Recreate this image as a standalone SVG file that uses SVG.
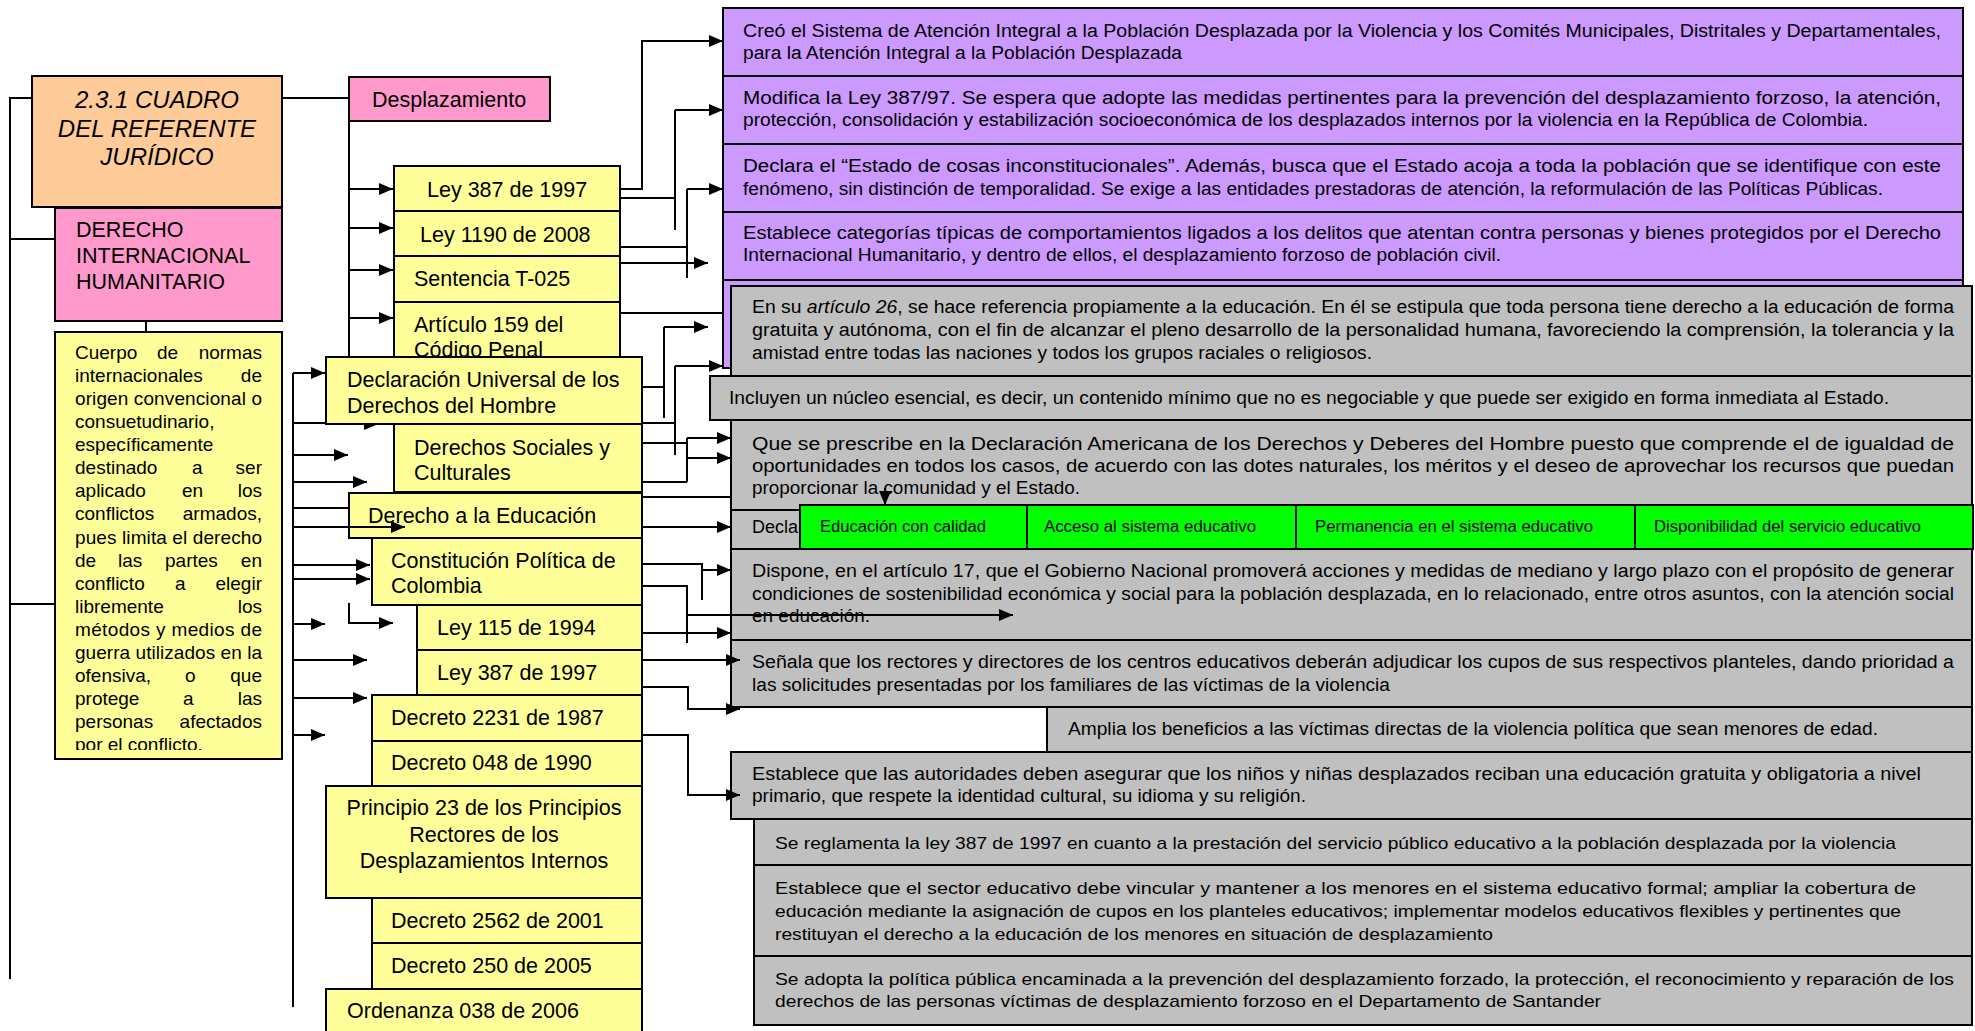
<svg xmlns="http://www.w3.org/2000/svg" width="1975" height="1031" viewBox="0 0 1975 1031">
<style>
.bx{stroke:#000;stroke-width:2}
.yl{fill:#FFFF99}.pk{fill:#FF99CC}.or{fill:#FFCC99}.pu{fill:#CC99FF}.gr{fill:#C0C0C0}.gn{fill:#00FF00}
text{font-family:"Liberation Sans",Arial,sans-serif;fill:#000}
.tl{font-size:21.5px}.ts{font-size:18px}.tc{font-size:19px}.tg{font-size:16px}.tb{font-size:17px}
.ti{font-size:24px;font-style:italic}
.cn{fill:none;stroke:#000;stroke-width:2}
.ar{marker-end:url(#ah)}
</style>
<defs>
<marker id="ah" markerUnits="userSpaceOnUse" markerWidth="14" markerHeight="12" refX="14" refY="6" orient="auto"><path d="M0,0 L14,6 L0,12 z" fill="#000"/></marker>
<clipPath id="cuerpoClip"><rect x="55" y="332" width="227" height="418"/></clipPath>
</defs>
<rect width="1975" height="1031" fill="#fff"/>

<g id="titulo"><rect class="bx or" x="32" y="76" width="250" height="131"/>
<text class="ti" text-anchor="middle"><tspan x="157" y="108">2.3.1 CUADRO</tspan><tspan x="157" y="137">DEL REFERENTE</tspan><tspan x="157" y="165">JURÍDICO</tspan></text></g>

<g id="dih"><rect class="bx pk" x="55" y="208" width="227" height="113"/>
<text class="tl"><tspan x="76" y="237">DERECHO</tspan><tspan x="76" y="263">INTERNACIONAL</tspan><tspan x="76" y="289">HUMANITARIO</tspan></text></g>

<g id="cuerpo"><rect class="bx yl" x="55" y="332" width="227" height="427"/>
<g clip-path="url(#cuerpoClip)" class="tc">
<text x="75" y="359">Cuerpo</text><text x="157" y="359">de</text><text x="262" y="359" text-anchor="end">normas</text>
<text x="75" y="382">internacionales</text><text x="262" y="382" text-anchor="end">de</text>
<text x="75" y="405" textLength="187" lengthAdjust="spacing">origen convencional o</text>
<text x="75" y="428">consuetudinario,</text>
<text x="75" y="451">específicamente</text>
<text x="75" y="474">destinado</text><text x="192" y="474">a</text><text x="262" y="474" text-anchor="end">ser</text>
<text x="75" y="497">aplicado</text><text x="182" y="497">en</text><text x="262" y="497" text-anchor="end">los</text>
<text x="75" y="520">conflictos</text><text x="262" y="520" text-anchor="end">armados,</text>
<text x="75" y="544" textLength="187" lengthAdjust="spacing">pues limita el derecho</text>
<text x="75" y="567">de</text><text x="118" y="567">las</text><text x="165" y="567">partes</text><text x="262" y="567" text-anchor="end">en</text>
<text x="75" y="590">conflicto</text><text x="175" y="590">a</text><text x="262" y="590" text-anchor="end">elegir</text>
<text x="75" y="613">libremente</text><text x="262" y="613" text-anchor="end">los</text>
<text x="75" y="636" textLength="187" lengthAdjust="spacing">métodos y medios de</text>
<text x="75" y="659" textLength="187" lengthAdjust="spacing">guerra utilizados en la</text>
<text x="75" y="682">ofensiva,</text><text x="185" y="682">o</text><text x="262" y="682" text-anchor="end">que</text>
<text x="75" y="705">protege</text><text x="183" y="705">a</text><text x="262" y="705" text-anchor="end">las</text>
<text x="75" y="728">personas</text><text x="262" y="728" text-anchor="end">afectados</text>
<text x="75" y="751">por el conflicto.</text>
</g></g>

<g id="desplazamiento"><rect class="bx pk" x="349" y="77" width="201" height="44"/><text class="tl" x="372" y="107">Desplazamiento</text></g>
<g id="ley387a"><rect class="bx yl" x="394" y="166" width="226" height="45"/><text class="tl" x="427" y="197">Ley 387 de 1997</text></g>
<g id="ley1190"><rect class="bx yl" x="394" y="211" width="226" height="45"/><text class="tl" x="420" y="242">Ley 1190 de 2008</text></g>
<g id="sentencia"><rect class="bx yl" x="394" y="256" width="226" height="46"/><text class="tl" x="414" y="286">Sentencia T-025</text></g>
<g id="articulo159"><rect class="bx yl" x="394" y="302" width="226" height="78"/><text class="tl"><tspan x="414" y="332">Artículo 159 del</tspan><tspan x="414" y="357">Código Penal</tspan></text></g>
<g id="declaracion"><rect class="bx yl" x="326" y="357" width="316" height="67"/><text class="tl"><tspan x="347" y="387">Declaración Universal de los</tspan><tspan x="347" y="413">Derechos del Hombre</tspan></text></g>
<g id="dsc"><rect class="bx yl" x="394" y="424" width="248" height="68"/><text class="tl"><tspan x="414" y="455">Derechos Sociales y</tspan><tspan x="414" y="480">Culturales</tspan></text></g>
<g id="dedu"><rect class="bx yl" x="349" y="493" width="293" height="45"/><text class="tl" x="368" y="523">Derecho a la Educación</text></g>
<g id="constitucion"><rect class="bx yl" x="372" y="538" width="270" height="67"/><text class="tl"><tspan x="391" y="568">Constitución Política de</tspan><tspan x="391" y="593">Colombia</tspan></text></g>
<g id="ley115"><rect class="bx yl" x="417" y="605" width="225" height="45"/><text class="tl" x="437" y="635">Ley 115 de 1994</text></g>
<g id="ley387b"><rect class="bx yl" x="417" y="650" width="225" height="45"/><text class="tl" x="437" y="680">Ley 387 de 1997</text></g>
<g id="dec2231"><rect class="bx yl" x="372" y="695" width="270" height="46"/><text class="tl" x="391" y="725">Decreto 2231 de 1987</text></g>
<g id="dec048"><rect class="bx yl" x="372" y="741" width="270" height="45"/><text class="tl" x="391" y="770">Decreto 048 de 1990</text></g>
<g id="principio23"><rect class="bx yl" x="326" y="786" width="316" height="112"/><text class="tl" text-anchor="middle"><tspan x="484" y="815">Principio 23 de los Principios</tspan><tspan x="484" y="842">Rectores de los</tspan><tspan x="484" y="868">Desplazamientos Internos</tspan></text></g>
<g id="dec2562"><rect class="bx yl" x="372" y="898" width="270" height="45"/><text class="tl" x="391" y="928">Decreto 2562 de 2001</text></g>
<g id="dec250"><rect class="bx yl" x="372" y="943" width="270" height="46"/><text class="tl" x="391" y="973">Decreto 250 de 2005</text></g>
<g id="ordenanza"><rect class="bx yl" x="326" y="989" width="316" height="52"/><text class="tl" x="347" y="1018">Ordenanza 038 de 2006</text></g>

<g id="p1"><rect class="bx pu" x="723" y="8" width="1240" height="68"/>
<text class="ts"><tspan x="743" y="37" textLength="1198" lengthAdjust="spacingAndGlyphs">Creó el Sistema de Atención Integral a la Población Desplazada por la Violencia y los Comités Municipales, Distritales y Departamentales,</tspan></text>
<text class="ts" x="743" y="59" textLength="439" lengthAdjust="spacingAndGlyphs">para la Atención Integral a la Población Desplazada</text></g>
<g id="p2"><rect class="bx pu" x="723" y="76" width="1240" height="68"/>
<text class="ts" x="743" y="104" textLength="1198" lengthAdjust="spacingAndGlyphs">Modifica la Ley 387/97. Se espera que adopte las medidas pertinentes para la prevención del desplazamiento forzoso, la atención,</text>
<text class="ts" x="743" y="126" textLength="1125" lengthAdjust="spacingAndGlyphs">protección, consolidación y estabilización socioeconómica de los desplazados internos por la violencia en la República de Colombia.</text></g>
<g id="p3"><rect class="bx pu" x="723" y="144" width="1240" height="68"/>
<text class="ts" x="743" y="172" textLength="1198" lengthAdjust="spacingAndGlyphs">Declara el “Estado de cosas inconstitucionales”. Además, busca que el Estado acoja a toda la población que se identifique con este</text>
<text class="ts" x="743" y="195" textLength="1140" lengthAdjust="spacingAndGlyphs">fenómeno, sin distinción de temporalidad. Se exige a las entidades prestadoras de atención, la reformulación de las Políticas Públicas.</text></g>
<g id="p4"><rect class="bx pu" x="723" y="212" width="1240" height="68"/>
<text class="ts" x="743" y="239" textLength="1198" lengthAdjust="spacingAndGlyphs">Establece categorías típicas de comportamientos ligados a los delitos que atentan contra personas y bienes protegidos por el Derecho</text>
<text class="ts" x="743" y="261" textLength="758" lengthAdjust="spacingAndGlyphs">Internacional Humanitario, y dentro de ellos, el desplazamiento forzoso de población civil.</text></g>
<g id="p5"><rect class="bx pu" x="723" y="280" width="1240" height="88"/></g>

<g id="g1"><rect class="bx gr" x="731" y="286" width="1241" height="90"/>
<text class="ts" x="752" y="313" textLength="1202" lengthAdjust="spacingAndGlyphs">En su <tspan font-style="italic">artículo 26</tspan>, se hace referencia propiamente a la educación. En él se estipula que toda persona tiene derecho a  la educación de forma</text>
<text class="ts" x="752" y="336" textLength="1202" lengthAdjust="spacingAndGlyphs">gratuita y autónoma, con el fin de alcanzar el pleno desarrollo de la personalidad humana, favoreciendo la comprensión, la tolerancia y la</text>
<text class="ts" x="752" y="359" textLength="620" lengthAdjust="spacingAndGlyphs">amistad entre todas las naciones y todos los grupos raciales o religiosos.</text></g>
<g id="g2"><rect class="bx gr" x="710" y="376" width="1262" height="44"/>
<text class="ts" x="729" y="404" textLength="1160" lengthAdjust="spacingAndGlyphs">Incluyen un núcleo esencial, es decir, un contenido mínimo que no es negociable y que puede ser exigido en forma inmediata al Estado.</text></g>
<g id="g3"><rect class="bx gr" x="731" y="420" width="1241" height="90"/>
<text class="ts" x="752" y="450" textLength="1202" lengthAdjust="spacingAndGlyphs">Que se prescribe en la Declaración Americana de los Derechos y Deberes del Hombre puesto que comprende el de igualdad de</text>
<text class="ts" x="752" y="472" textLength="1202" lengthAdjust="spacingAndGlyphs">oportunidades en todos los casos, de acuerdo con las dotes naturales, los méritos y el deseo de aprovechar los recursos que puedan</text>
<text class="ts" x="752" y="494" textLength="328" lengthAdjust="spacingAndGlyphs">proporcionar la comunidad y el Estado.</text></g>
<g id="g4"><rect class="bx gr" x="731" y="510" width="1241" height="39"/><text class="ts" x="752" y="533">Decla</text></g>
<g id="v1"><rect class="bx gn" x="800" y="505" width="227" height="44"/><text class="tg" x="820" y="532" textLength="166" lengthAdjust="spacingAndGlyphs">Educación con calidad</text></g>
<g id="v2"><rect class="bx gn" x="1027" y="505" width="269" height="44"/><text class="tg" x="1044" y="532" textLength="212" lengthAdjust="spacingAndGlyphs">Acceso al sistema educativo</text></g>
<g id="v3"><rect class="bx gn" x="1296" y="505" width="339" height="44"/><text class="tg" x="1315" y="532" textLength="278" lengthAdjust="spacingAndGlyphs">Permanencia en el sistema educativo</text></g>
<g id="v4"><rect class="bx gn" x="1635" y="505" width="338" height="44"/><text class="tg" x="1654" y="532" textLength="267" lengthAdjust="spacingAndGlyphs">Disponibilidad del servicio educativo</text></g>
<g id="g5"><rect class="bx gr" x="731" y="549" width="1241" height="91"/>
<text class="ts" x="752" y="577" textLength="1202" lengthAdjust="spacingAndGlyphs">Dispone, en el artículo 17, que el Gobierno Nacional promoverá acciones y medidas de mediano y largo plazo con el propósito de generar</text>
<text class="ts" x="752" y="600" textLength="1202" lengthAdjust="spacingAndGlyphs">condiciones de sostenibilidad económica y social para la población desplazada, en lo relacionado, entre otros asuntos, con la atención social</text>
<text class="ts" x="752" y="622" textLength="118" lengthAdjust="spacingAndGlyphs">en educación.</text></g>
<g id="g6"><rect class="bx gr" x="731" y="640" width="1241" height="67"/>
<text class="ts" x="752" y="668" textLength="1202" lengthAdjust="spacingAndGlyphs">Señala que los rectores y directores de los centros educativos deberán adjudicar los cupos de sus respectivos planteles, dando prioridad a</text>
<text class="ts" x="752" y="691" textLength="638" lengthAdjust="spacingAndGlyphs">las solicitudes presentadas por los familiares de las víctimas de la violencia</text></g>
<g id="g7"><rect class="bx gr" x="1047" y="707" width="925" height="45"/>
<text class="ts" x="1068" y="735" textLength="810" lengthAdjust="spacingAndGlyphs">Amplia los beneficios a las víctimas directas de la violencia política que sean menores de edad.</text></g>
<g id="g8"><rect class="bx gr" x="731" y="752" width="1241" height="67"/>
<text class="ts" x="752" y="780" textLength="1169" lengthAdjust="spacingAndGlyphs">Establece que las autoridades deben asegurar que los niños y niñas desplazados reciban una educación gratuita y obligatoria a nivel</text>
<text class="ts" x="752" y="802" textLength="554" lengthAdjust="spacingAndGlyphs">primario, que respete la identidad cultural, su idioma y su religión.</text></g>
<g id="g9"><rect class="bx gr" x="754" y="819" width="1218" height="46"/>
<text class="tb" x="775" y="849" textLength="1121" lengthAdjust="spacingAndGlyphs">Se reglamenta la ley 387 de 1997 en cuanto a la prestación del servicio público educativo a la población desplazada por la violencia</text></g>
<g id="g10"><rect class="bx gr" x="754" y="865" width="1218" height="91"/>
<text class="tb" x="775" y="894" textLength="1141" lengthAdjust="spacingAndGlyphs">Establece que el sector educativo debe vincular y mantener a los menores en el sistema educativo formal; ampliar la cobertura de</text>
<text class="tb" x="775" y="917" textLength="1126" lengthAdjust="spacingAndGlyphs">educación mediante la asignación de cupos en los planteles educativos; implementar modelos educativos flexibles y pertinentes que</text>
<text class="tb" x="775" y="940" textLength="718" lengthAdjust="spacingAndGlyphs">restituyan el derecho a la educación de los menores en situación de desplazamiento</text></g>
<g id="g11"><rect class="bx gr" x="754" y="956" width="1218" height="69"/>
<text class="tb" x="775" y="985" textLength="1179" lengthAdjust="spacingAndGlyphs">Se adopta la política  pública encaminada a la prevención del desplazamiento forzado, la protección, el reconocimiento y reparación de los</text>
<text class="tb" x="775" y="1007" textLength="826" lengthAdjust="spacingAndGlyphs">derechos de las personas víctimas de desplazamiento forzoso en el Departamento de Santander</text></g>

<g id="connectors">
<path class="cn" d="M10,979 V98 H32 M10,239 H55 M10,604 H55 M146,321 V332 M282,98 H349 M349,121 V357"/>
<path class="cn ar" d="M349,189 H393"/><path class="cn ar" d="M349,228 H393"/><path class="cn ar" d="M349,270 H393"/><path class="cn ar" d="M349,318 H393"/>
<path class="cn" d="M293,373 V1007 M293,423 H326 M293,508 H349"/>
<polygon points="364,425 376,425 364,430" fill="#000"/>
<path class="cn ar" d="M293,373 H325"/>
<path class="cn ar" d="M293,455 H348"/>
<path class="cn ar" d="M293,482 H367"/>
<path class="cn ar" d="M293,527 H405"/>
<path class="cn ar" d="M293,565 H370"/>
<path class="cn ar" d="M293,579 H370"/>
<path class="cn ar" d="M349,603 V623 H393"/>
<path class="cn ar" d="M293,624 H325"/>
<path class="cn ar" d="M293,660 H367"/>
<path class="cn ar" d="M293,698 H367"/>
<path class="cn ar" d="M293,735 H325"/>
<path class="cn ar" d="M620,189 H642 V41 H723"/>
<path class="cn" d="M620,198 H675 M675,230 V110"/><path class="cn ar" d="M675,110 H723"/>
<path class="cn" d="M620,247 H687 M687,278 V189"/><path class="cn ar" d="M687,189 H723"/>
<path class="cn ar" d="M620,263 H708"/>
<path class="cn" d="M620,313 H723"/>
<path class="cn" d="M642,387 H664 M664,418 V327"/><path class="cn ar" d="M664,327 H708"/>
<path class="cn" d="M642,423 H675 M675,455 V366"/><path class="cn ar" d="M675,366 H723"/>
<path class="cn" d="M642,443 H687 M687,482 V438 M642,482 H687"/><path class="cn ar" d="M687,438 H731"/><path class="cn ar" d="M687,458 H731"/>
<path class="cn" d="M642,497 H731"/>
<path class="cn ar" d="M642,527 H731"/>
<path class="cn" d="M642,564 H702 V600"/><path class="cn ar" d="M702,570 H731"/>
<path class="cn" d="M642,586 H687 V643"/><path class="cn ar" d="M687,615 H1013"/>
<path class="cn ar" d="M642,633 H731"/>
<path class="cn ar" d="M642,660 H740"/>
<path class="cn ar" d="M642,687 H688 V709 H740"/>
<path class="cn ar" d="M642,735 H688 V795 H740"/>
<path class="cn ar" d="M885,488 V505"/>
</g>
</svg>
